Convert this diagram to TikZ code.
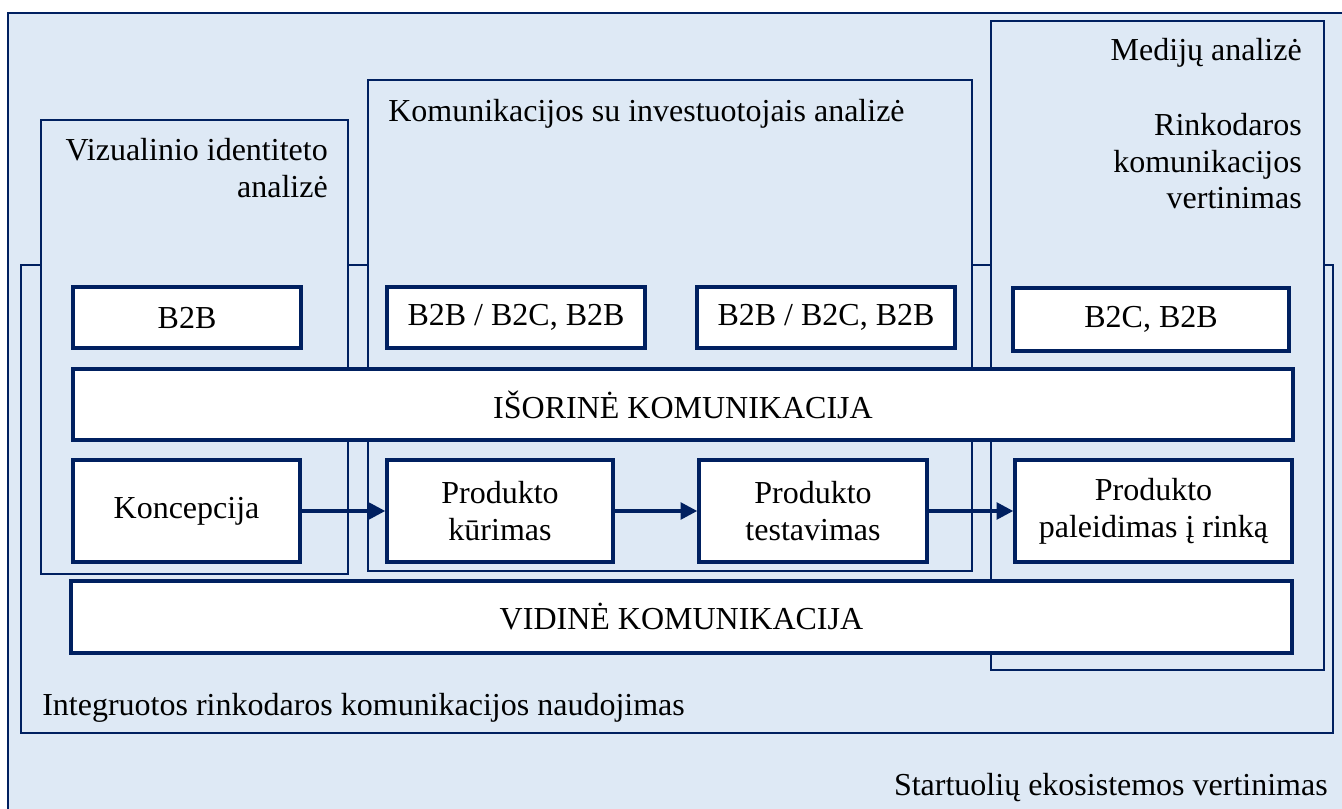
\documentclass[tikz,border=0pt]{standalone}
\usepackage{fontspec}
\setmainfont{Liberation Serif}
\usetikzlibrary{arrows.meta}
\definecolor{navy}{RGB}{0,32,96}
\definecolor{paleblue}{RGB}{222,233,245}
\tikzset{
  frame/.style={fill=paleblue, draw=navy, line width=1.8pt},
  stage/.style={draw=navy, fill=white, line width=2.6pt, align=center, inner sep=0pt},
  flow/.style={draw=navy, line width=2.6pt, -{Triangle[length=12.5pt,width=12.5pt]}}
}
\begin{document}
\begin{tikzpicture}[x=0.75pt,y=-0.75pt,font=\fontsize{24}{27.5}\selectfont]
\clip (0,0) rectangle (1342,809);
\filldraw[frame] (8,13) rectangle (1370,840);
\filldraw[frame] (21,265) rectangle (1333,733);
\filldraw[frame] (41,120) rectangle (348,574);
\filldraw[frame] (368,80) rectangle (972,571);
\filldraw[frame] (991,21) rectangle (1324,670);
\node[anchor=north east, inner sep=0pt, align=right] (vizual) at (328,138) {Vizualinio identiteto\\analizė};
\node[anchor=north west, inner sep=0pt] (invest) at (388,99) {Komunikacijos su investuotojais analizė};
\node[anchor=north east, inner sep=0pt, align=right] (medija) at (1302,38) {Medijų analizė\\[28.75pt]Rinkodaros\\komunikacijos\\vertinimas};
\node[anchor=base west, inner sep=0pt] (integr) at (42,715) {Integruotos rinkodaros komunikacijos naudojimas};
\node[anchor=base east, inner sep=0pt] (ekosis) at (1328,795) {Startuolių ekosistemos vertinimas};
\node[stage, minimum width=171pt, minimum height=45.75pt] (b2b) at (187,317.5) {B2B};
\node[stage, minimum width=193.5pt, minimum height=45.75pt] (mixa) at (516,317.5) {B2B / B2C, B2B};
\node[stage, minimum width=193.5pt, minimum height=45.75pt] (mixb) at (826,317.5) {B2B / B2C, B2B};
\node[stage, minimum width=207pt, minimum height=47.25pt] (b2c) at (1151,319.5) {B2C, B2B};
\node[stage, minimum width=915pt, minimum height=53.25pt] (isor) at (683,404.5) {IŠORINĖ KOMUNIKACIJA};
\node[stage, minimum width=170.25pt, minimum height=76.5pt] (konc) at (186.5,511) {Koncepcija};
\node[stage, minimum width=169.5pt, minimum height=76.5pt] (kur) at (500,511) {Produkto\\kūrimas};
\node[stage, minimum width=171pt, minimum height=76.5pt] (test) at (813,511) {Produkto\\testavimas};
\node[stage, minimum width=207.75pt, minimum height=76.5pt] (pal) at (1153.5,511) {Produkto\\paleidimas į rinką};
\node[stage, minimum width=915.75pt, minimum height=54pt] (vid) at (681.5,617) {VIDINĖ KOMUNIKACIJA};
\draw[flow] (konc) -- (kur);
\draw[flow] (kur) -- (test);
\draw[flow] (test) -- (pal);
\end{tikzpicture}
\end{document}
